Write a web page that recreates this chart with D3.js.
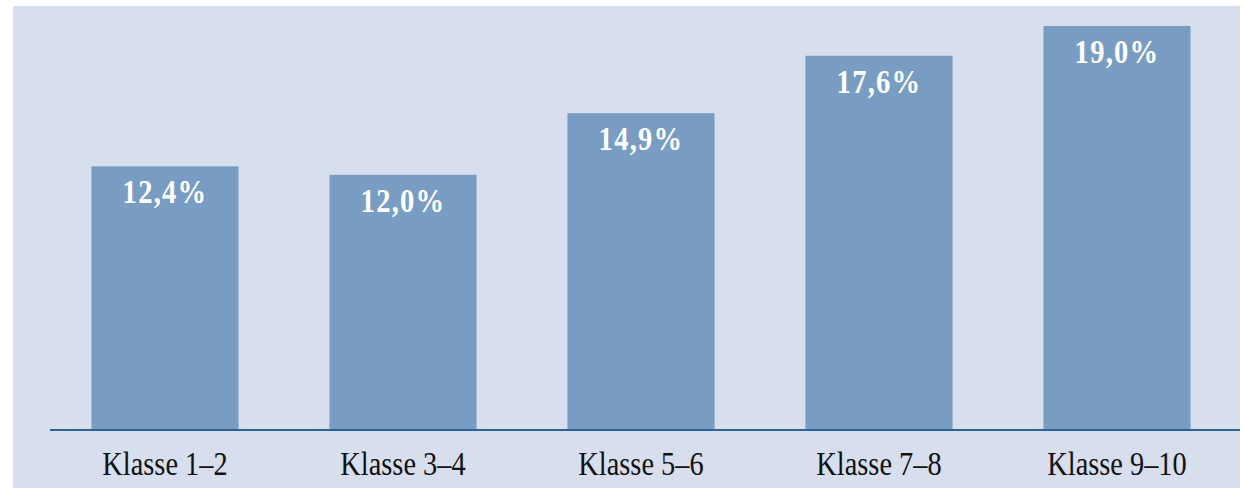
<!DOCTYPE html>
<html>
<head>
<meta charset="utf-8">
<script src="https://cdn.jsdelivr.net/npm/d3@7"></script>
<style>
  html, body { margin: 0; padding: 0; background: #ffffff; }
  svg { display: block; }
</style>
</head>
<body>
<svg id="chart" width="1244" height="488"></svg>
<script>
const categories = ["Klasse 1–2", "Klasse 3–4", "Klasse 5–6", "Klasse 7–8", "Klasse 9–10"];
const values = [12.4, 12.0, 14.9, 17.6, 19.0];
const valueLabels = ["12,4%", "12,0%", "14,9%", "17,6%", "19,0%"];

const W = 1244, H = 488;
const svg = d3.select("#chart");

const panel = { x0: 13, y0: 6, x1: 1240, y1: 488 };
const axisLeft = 50;
const baseline = 430;

svg.append("rect")
  .attr("x", panel.x0).attr("y", panel.y0)
  .attr("width", panel.x1 - panel.x0).attr("height", panel.y1 - panel.y0)
  .attr("fill", "#d7deed");

const x = d3.scaleBand()
  .domain(categories)
  .range([46, 1240 - 4])
  .paddingInner(0.382)
  .paddingOuter(0.191);

const y = d3.scaleLinear().domain([0, 19]).range([baseline, 26]);

const data = categories.map((c, i) => ({ c, v: values[i], label: valueLabels[i] }));

svg.selectAll("rect.bar").data(data).enter().append("rect")
  .attr("class", "bar")
  .attr("x", d => x(d.c))
  .attr("y", d => y(d.v))
  .attr("width", x.bandwidth())
  .attr("height", d => y(0) - y(d.v))
  .attr("fill", "#799cc2");

svg.selectAll("text.val").data(data).enter().append("text")
  .attr("class", "val")
  .attr("transform", d => `translate(${x(d.c) + x.bandwidth() / 2},${y(d.v) + 37}) scale(0.84,1)`)
  .attr("text-anchor", "middle")
  .attr("font-family", "'Liberation Serif', 'DejaVu Serif', serif")
  .attr("font-weight", "bold")
  .attr("font-size", 34)
  .attr("letter-spacing", 1.5)
  .attr("fill", "#ffffff")
  .text(d => d.label);

const axis = d3.axisBottom(x).tickSize(0).tickPadding(0);
const gAxis = svg.append("g").attr("transform", `translate(0,${baseline})`).call(axis);
gAxis.select(".domain").remove();
gAxis.append("line")
  .attr("x1", axisLeft).attr("x2", 1240)
  .attr("y1", 0).attr("y2", 0)
  .attr("stroke", "#2e6398").attr("stroke-width", 2);
gAxis.selectAll(".tick text")
  .attr("y", 0).attr("dy", null)
  .attr("transform", "translate(0,45) scale(0.86,1)")
  .attr("font-family", "'Liberation Serif', 'DejaVu Serif', serif")
  .attr("font-size", 33)
  .attr("fill", "#111111");
</script>
</body>
</html>
